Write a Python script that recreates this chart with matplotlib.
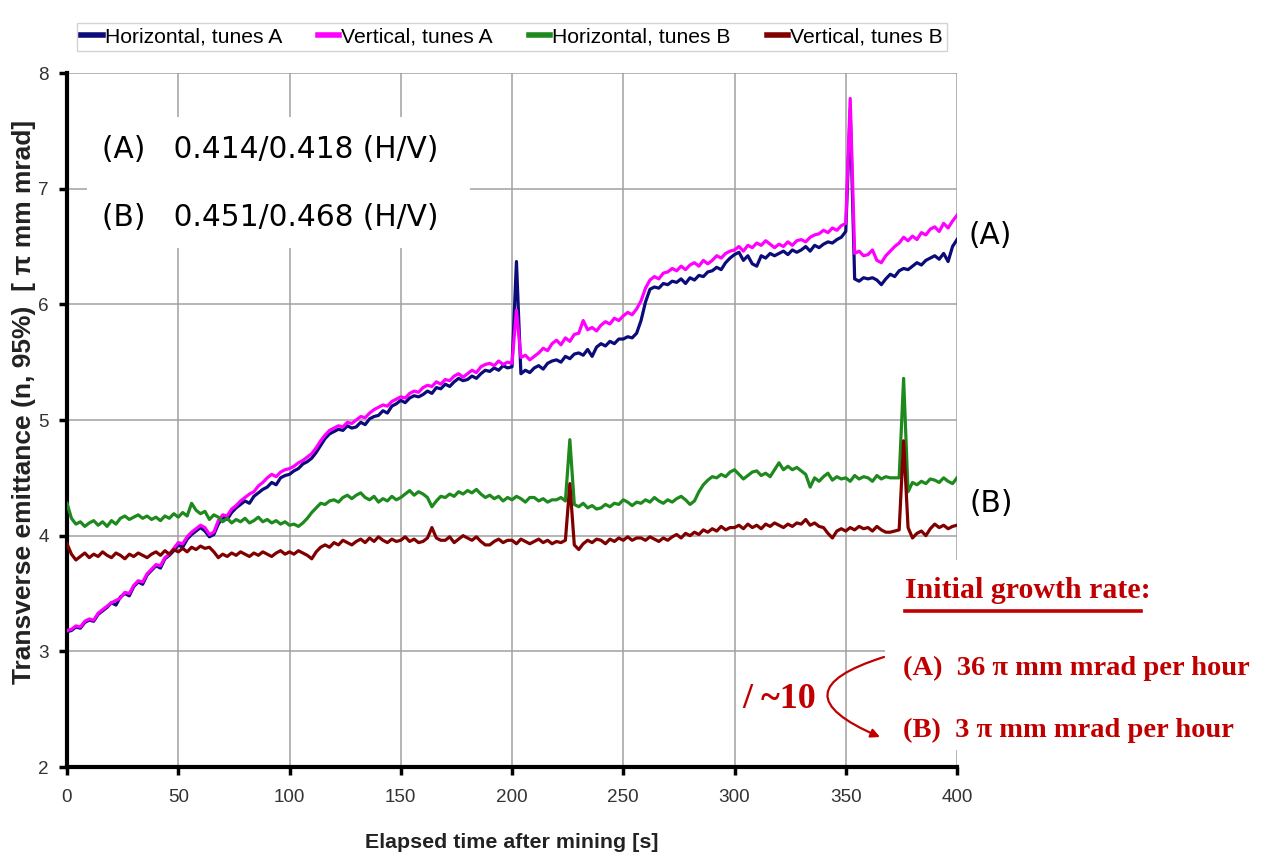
import numpy as np
import matplotlib
matplotlib.use('Agg')
import matplotlib.pyplot as plt
from matplotlib import font_manager as fm
from matplotlib.patches import Rectangle, FancyArrowPatch
from matplotlib.lines import Line2D

# ---------------- data ----------------
time_s = np.arange(0, 401, 2)

horiz_A = [
    3.17, 3.18, 3.21, 3.20, 3.25, 3.27, 3.26, 3.32, 3.35, 3.38,
    3.42, 3.40, 3.47, 3.50, 3.48, 3.56, 3.60, 3.58, 3.66, 3.70,
    3.74, 3.72, 3.80, 3.83, 3.87, 3.92, 3.90, 3.97, 4.01, 4.04,
    4.07, 4.04, 3.99, 4.01, 4.10, 4.16, 4.14, 4.20, 4.24, 4.27,
    4.30, 4.28, 4.34, 4.37, 4.40, 4.42, 4.46, 4.44, 4.50, 4.52,
    4.53, 4.56, 4.58, 4.62, 4.64, 4.67, 4.72, 4.78, 4.84, 4.88,
    4.90, 4.92, 4.91, 4.95, 4.93, 4.94, 4.98, 4.96, 5.01, 5.03,
    5.04, 5.08, 5.06, 5.12, 5.14, 5.17, 5.15, 5.19, 5.21, 5.20,
    5.22, 5.25, 5.23, 5.28, 5.27, 5.31, 5.29, 5.33, 5.36, 5.34,
    5.35, 5.38, 5.36, 5.40, 5.43, 5.42, 5.45, 5.43, 5.47, 5.45,
    5.46, 6.37, 5.40, 5.43, 5.41, 5.45, 5.47, 5.44, 5.49, 5.51,
    5.52, 5.50, 5.55, 5.53, 5.57, 5.58, 5.56, 5.61, 5.55, 5.63,
    5.66, 5.64, 5.68, 5.66, 5.70, 5.70, 5.72, 5.71, 5.75, 5.86,
    6.02, 6.13, 6.15, 6.14, 6.18, 6.17, 6.20, 6.19, 6.22, 6.18,
    6.23, 6.21, 6.25, 6.24, 6.28, 6.29, 6.32, 6.30, 6.36, 6.40,
    6.43, 6.45, 6.38, 6.42, 6.35, 6.33, 6.42, 6.40, 6.44, 6.42,
    6.44, 6.46, 6.43, 6.47, 6.45, 6.47, 6.50, 6.46, 6.51, 6.49,
    6.52, 6.54, 6.53, 6.56, 6.58, 6.63, 7.68, 6.22, 6.20, 6.23,
    6.22, 6.23, 6.21, 6.17, 6.22, 6.26, 6.24, 6.29, 6.31, 6.30,
    6.33, 6.36, 6.34, 6.38, 6.40, 6.42, 6.39, 6.44, 6.37, 6.50,
    6.56]

vert_A = [
    3.18, 3.19, 3.22, 3.21, 3.26, 3.28, 3.27, 3.33, 3.36, 3.39,
    3.42, 3.44, 3.46, 3.51, 3.50, 3.57, 3.61, 3.60, 3.67, 3.71,
    3.75, 3.74, 3.81, 3.84, 3.89, 3.94, 3.93, 3.99, 4.03, 4.06,
    4.09, 4.07, 4.01, 4.03, 4.13, 4.18, 4.17, 4.23, 4.26, 4.30,
    4.33, 4.36, 4.38, 4.43, 4.46, 4.50, 4.53, 4.51, 4.55, 4.57,
    4.58, 4.60, 4.63, 4.65, 4.68, 4.71, 4.76, 4.82, 4.87, 4.91,
    4.93, 4.95, 4.94, 4.98, 4.97, 5.00, 5.03, 5.02, 5.06, 5.09,
    5.11, 5.13, 5.12, 5.16, 5.18, 5.20, 5.19, 5.23, 5.25, 5.24,
    5.28, 5.30, 5.29, 5.33, 5.31, 5.35, 5.34, 5.38, 5.40, 5.37,
    5.40, 5.43, 5.41, 5.46, 5.48, 5.49, 5.47, 5.51, 5.48, 5.50,
    5.49, 5.95, 5.54, 5.56, 5.52, 5.55, 5.58, 5.62, 5.60, 5.66,
    5.69, 5.65, 5.71, 5.68, 5.74, 5.75, 5.86, 5.78, 5.80, 5.77,
    5.82, 5.85, 5.83, 5.88, 5.86, 5.90, 5.93, 5.91, 5.96, 6.03,
    6.14, 6.21, 6.24, 6.22, 6.27, 6.28, 6.31, 6.29, 6.33, 6.30,
    6.34, 6.36, 6.33, 6.38, 6.35, 6.38, 6.42, 6.40, 6.44, 6.46,
    6.47, 6.50, 6.46, 6.51, 6.49, 6.53, 6.51, 6.55, 6.52, 6.49,
    6.52, 6.50, 6.54, 6.51, 6.55, 6.56, 6.54, 6.58, 6.60, 6.61,
    6.64, 6.62, 6.66, 6.64, 6.68, 6.70, 7.78, 6.44, 6.46, 6.42,
    6.43, 6.47, 6.38, 6.36, 6.42, 6.46, 6.50, 6.53, 6.58, 6.55,
    6.59, 6.56, 6.62, 6.60, 6.65, 6.67, 6.63, 6.70, 6.66, 6.72,
    6.77]

horiz_B = [
    4.28, 4.15, 4.10, 4.12, 4.08, 4.11, 4.13, 4.09, 4.12, 4.08,
    4.13, 4.10, 4.15, 4.17, 4.14, 4.16, 4.18, 4.15, 4.17, 4.14,
    4.16, 4.13, 4.17, 4.15, 4.19, 4.16, 4.20, 4.17, 4.28, 4.22,
    4.19, 4.21, 4.14, 4.18, 4.16, 4.12, 4.15, 4.11, 4.14, 4.12,
    4.15, 4.11, 4.13, 4.16, 4.12, 4.14, 4.11, 4.13, 4.10, 4.12,
    4.09, 4.10, 4.08, 4.11, 4.15, 4.20, 4.24, 4.28, 4.27, 4.30,
    4.31, 4.29, 4.33, 4.35, 4.32, 4.35, 4.37, 4.33, 4.31, 4.34,
    4.29, 4.32, 4.30, 4.34, 4.31, 4.33, 4.36, 4.39, 4.35, 4.38,
    4.36, 4.33, 4.25, 4.30, 4.34, 4.33, 4.36, 4.34, 4.38, 4.36,
    4.39, 4.37, 4.40, 4.36, 4.33, 4.35, 4.32, 4.34, 4.30, 4.33,
    4.31, 4.34, 4.32, 4.29, 4.33, 4.33, 4.30, 4.32, 4.29, 4.31,
    4.31, 4.33, 4.30, 4.83, 4.27, 4.25, 4.28, 4.24, 4.26, 4.23,
    4.24, 4.27, 4.25, 4.28, 4.27, 4.31, 4.29, 4.26, 4.29, 4.28,
    4.31, 4.29, 4.33, 4.30, 4.28, 4.31, 4.29, 4.32, 4.34, 4.31,
    4.27, 4.30, 4.38, 4.44, 4.48, 4.51, 4.50, 4.53, 4.51, 4.55,
    4.57, 4.53, 4.49, 4.52, 4.55, 4.56, 4.52, 4.54, 4.51, 4.57,
    4.63, 4.57, 4.60, 4.57, 4.59, 4.56, 4.53, 4.42, 4.50, 4.47,
    4.51, 4.54, 4.48, 4.51, 4.49, 4.50, 4.47, 4.52, 4.49, 4.51,
    4.50, 4.47, 4.52, 4.49, 4.51, 4.50, 4.50, 4.50, 5.36, 4.38,
    4.46, 4.44, 4.47, 4.45, 4.49, 4.48, 4.46, 4.50, 4.47, 4.45,
    4.50]

vert_B = [
    3.93, 3.84, 3.79, 3.82, 3.85, 3.81, 3.84, 3.82, 3.86, 3.83,
    3.81, 3.85, 3.83, 3.80, 3.84, 3.82, 3.85, 3.83, 3.81, 3.84,
    3.86, 3.83, 3.87, 3.84, 3.88, 3.86, 3.89, 3.86, 3.90, 3.88,
    3.91, 3.89, 3.90, 3.86, 3.81, 3.84, 3.82, 3.85, 3.83, 3.86,
    3.84, 3.82, 3.85, 3.83, 3.86, 3.84, 3.82, 3.85, 3.87, 3.84,
    3.86, 3.84, 3.87, 3.85, 3.83, 3.80, 3.86, 3.90, 3.92, 3.90,
    3.94, 3.92, 3.96, 3.94, 3.92, 3.95, 3.97, 3.94, 3.98, 3.95,
    3.99, 3.96, 3.94, 3.97, 3.95, 3.96, 3.99, 3.95, 3.97, 3.94,
    3.95, 3.98, 4.07, 3.98, 3.96, 3.96, 3.99, 3.94, 3.97, 4.00,
    3.98, 3.96, 3.99, 3.95, 3.92, 3.92, 3.95, 3.97, 3.94, 3.96,
    3.96, 3.93, 3.97, 3.95, 3.93, 3.95, 3.97, 3.94, 3.96, 3.93,
    3.95, 3.94, 3.96, 4.45, 3.92, 3.88, 3.93, 3.96, 3.94, 3.97,
    3.96, 3.93, 3.97, 3.95, 3.98, 3.96, 3.99, 3.96, 3.98, 3.98,
    3.96, 3.99, 3.97, 3.95, 3.98, 3.96, 3.99, 4.01, 3.98, 4.02,
    4.00, 4.03, 4.01, 4.05, 4.03, 4.06, 4.04, 4.08, 4.05, 4.07,
    4.07, 4.09, 4.06, 4.10, 4.07, 4.09, 4.06, 4.10, 4.08, 4.11,
    4.09, 4.07, 4.10, 4.08, 4.11, 4.10, 4.14, 4.09, 4.11, 4.08,
    4.07, 4.02, 3.98, 4.04, 4.06, 4.04, 4.07, 4.05, 4.08, 4.06,
    4.07, 4.04, 4.08, 4.05, 4.03, 4.03, 4.04, 4.05, 4.82, 4.07,
    3.98, 4.02, 4.04, 4.00, 4.06, 4.10, 4.07, 4.09, 4.06, 4.08,
    4.09]

series_labels = ["Horizontal, tunes A", "Vertical, tunes A",
                 "Horizontal, tunes B", "Vertical, tunes B"]
series_colors = ["#0B0B7A", "#FF00FF", "#1E8A1E", "#800000"]
x_ticks = [0, 50, 100, 150, 200, 250, 300, 350, 400]
y_ticks = [2, 3, 4, 5, 6, 7, 8]

# ---------------- fonts ----------------
def has_font(name):
    try:
        fm.findfont(fm.FontProperties(family=name), fallback_to_default=False)
        return True
    except Exception:
        return False

NARROW = has_font('Liberation Sans Narrow')
SANS_N = 'Liberation Sans Narrow' if NARROW else 'Liberation Sans'
k = 1.0 if NARROW else 0.88
RED = '#C00000'
SERIF = 'Liberation Serif'
COMIC = 'DejaVu Sans'

W, H = 1266, 856


def P(x, y):
    return (x / W, 1 - y / H)


fig = plt.figure(figsize=(W / 100, H / 100), dpi=100)
ax = fig.add_axes([67 / W, 1 - 767 / H, 890 / W, 694 / H])

for vals, col, lab in zip([horiz_A, vert_A, horiz_B, vert_B], series_colors, series_labels):
    ax.plot(time_s, vals, color=col, lw=2.3, label=lab, solid_joinstyle='round', zorder=3)

ax.set_xlim(0, 400)
ax.set_ylim(2, 8)
ax.set_xticks(x_ticks)
ax.set_yticks(y_ticks)
ax.grid(True, color='#A0A0A0', lw=1.1)
ax.set_axisbelow(True)
for s in ['top', 'right']:
    ax.spines[s].set_visible(False)
for s in ['left', 'bottom']:
    ax.spines[s].set_linewidth(3)
    ax.spines[s].set_color('black')
ax.tick_params(direction='out', length=6, width=2.5, colors='black')
ax.tick_params(axis='x', pad=10)
ax.tick_params(axis='y', pad=7)
for lab in ax.get_xticklabels() + ax.get_yticklabels():
    lab.set_fontfamily(SANS_N)
    lab.set_fontsize(15.5 * k)
    lab.set_color('#333333')

# white box behind tune text
ax.add_patch(Rectangle((9, 6.49), 172, 1.13, facecolor='white', edgecolor='none', zorder=1))

# legend
handles = [Line2D([], [], color=c, lw=4) for c in series_colors]
leg = fig.legend(handles, series_labels, loc='center', bbox_to_anchor=P(512, 37), ncol=4,
                 frameon=True, fancybox=False, edgecolor='#C8C8C8', handlelength=1.0,
                 handletextpad=0.1, columnspacing=1.7, borderpad=0.2,
                 prop=fm.FontProperties(family=SANS_N, size=17.3 * k))
leg.get_frame().set_linewidth(1.0)

# axis labels
fig.text(*P(512, 843), "Elapsed time after mining [s]", ha='center', va='center',
         fontfamily=SANS_N, fontweight='bold', fontsize=17.5 * k / 0.84 * 0.84, color='#222222')
fig.text(*P(24, 402), "Transverse emittance (n, 95%)  [ π mm mrad]", rotation=90,
         ha='center', va='center', fontfamily='Liberation Sans', fontweight='bold',
         fontsize=19, color='#222222')

# tune annotations
fig.text(*P(102, 150), "(A)   0.414/0.418 (H/V)", ha='left', va='center',
         fontfamily=COMIC, fontsize=21.3, color='black')
fig.text(*P(102, 217), "(B)   0.451/0.468 (H/V)", ha='left', va='center',
         fontfamily=COMIC, fontsize=21.3, color='black')
fig.text(*P(968, 236), "(A)", ha='left', va='center', fontfamily=COMIC, fontsize=21.3)
fig.text(*P(970, 503), "(B)", ha='left', va='center', fontfamily=COMIC, fontsize=21.3)

# white area under growth-rate text
fig.add_artist(Rectangle(P(885, 750), (1266 - 885) / W, 190 / H, transform=fig.transFigure,
                         facecolor='white', edgecolor='none', zorder=2.5))

t1 = fig.text(*P(905, 590), "Initial growth rate:", ha='left', va='center',
              fontfamily=SERIF, fontweight='bold', fontsize=21.5, color=RED, zorder=4)
meas = fig.text(*P(905, 590), "Initial growth rate", ha='left', va='center',
                fontfamily=SERIF, fontweight='bold', fontsize=21.5, color=RED, alpha=0)
fig.text(*P(903, 668), "(A)  36 π mm mrad per hour", ha='left', va='center',
         fontfamily=SERIF, fontweight='bold', fontsize=20.5, color=RED, zorder=4)
fig.text(*P(903, 730), "(B)  3 π mm mrad per hour", ha='left', va='center',
         fontfamily=SERIF, fontweight='bold', fontsize=20.5, color=RED, zorder=4)
fig.text(*P(742, 700), "/ ~10", ha='left', va='center',
         fontfamily=SERIF, fontweight='bold', fontsize=26, color=RED, zorder=4)

renderer = fig.canvas.get_renderer()
bb = meas.get_window_extent(renderer=renderer)
x0, x1 = bb.x0 / W, bb.x1 / W
fig.add_artist(Line2D([x0, x1], [1 - 611 / H, 1 - 611 / H], transform=fig.transFigure,
                      color=RED, lw=2.6, zorder=4))

arrow = FancyArrowPatch(posA=P(884, 657), posB=P(880, 737), transform=fig.transFigure,
                        connectionstyle='arc3,rad=1.35', arrowstyle='-|>', mutation_scale=13,
                        color=RED, lw=1.6, shrinkA=0, shrinkB=0, zorder=4)
fig.add_artist(arrow)

fig.savefig('out.png', dpi=100)
